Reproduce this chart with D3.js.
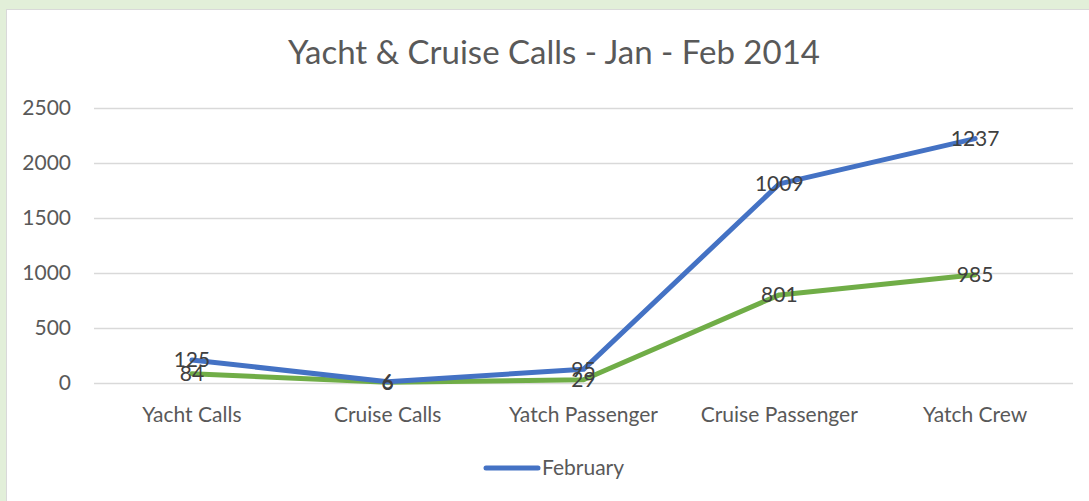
<!DOCTYPE html>
<html>
<head>
<meta charset="utf-8">
<script src="https://cdn.jsdelivr.net/npm/d3@7"></script>
<style>
  html, body { margin: 0; padding: 0; background: #e2efd9; }
  svg { display: block; font-family: Lato, "Open Sans", sans-serif; }
</style>
</head>
<body>
<svg id="chart"></svg>
<script>
/* Data Setup */
const categories = ['Yacht Calls', 'Cruise Calls', 'Yatch Passenger', 'Cruise Passenger', 'Yatch Crew'];
const january = [84, 6, 29, 801, 985];
const february = [125, 6, 95, 1009, 1237];
const yTicks = [0, 500, 1000, 1500, 2000, 2500];

/* Build table for stacking */
const table = categories.map((c, i) => ({ category: c, January: january[i], February: february[i] }));
const seriesNames = ['January', 'February'];
const stacked = d3.stack().keys(seriesNames)(table);

/* Chart dimensions */
const W = 1089, H = 501;
const margin = { top: 108, right: 16, bottom: 118, left: 94 };
const width = W - margin.left - margin.right;
const height = H - margin.top - margin.bottom;

const root = d3.select("#chart")
    .attr("width", W)
    .attr("height", H);

/* White chart panel */
root.append("rect")
    .attr("x", 6.5)
    .attr("y", 9.5)
    .attr("width", W)
    .attr("height", H)
    .attr("fill", "#fff")
    .attr("stroke", "#d9d9d9");

/* Title */
root.append("text")
    .attr("x", 554)
    .attr("y", 64)
    .attr("text-anchor", "middle")
    .style("font-size", "33px")
    .style("fill", "#595959")
    .text("Yacht & Cruise Calls - Jan - Feb 2014");

const svg = root.append("g")
    .attr("transform", `translate(${margin.left},${margin.top})`);

/* Scales */
const xScale = d3.scaleBand()
    .domain(categories)
    .range([0, width]);

const yScale = d3.scaleLinear()
    .domain([0, 2500])
    .range([height, 0]);

const colorScale = d3.scaleOrdinal()
    .domain(seriesNames)
    .range(['#70ad47', '#4472c4']);

const xPos = d => xScale(d.data.category) + xScale.bandwidth() / 2;

/* Gridlines + Y axis */
const yAxis = d3.axisLeft(yScale)
    .tickValues(yTicks)
    .tickSize(-width)
    .tickPadding(23)
    .tickFormat(d3.format("d"));
const yG = svg.append("g").call(yAxis);
yG.select(".domain").remove();
yG.selectAll("line").attr("stroke", "#d9d9d9").attr("stroke-width", 1.5);
yG.selectAll("text")
    .style("font-size", "21px")
    .style("fill", "#595959")
    .style("font-family", "Lato, sans-serif");

/* X axis */
const xAxis = d3.axisBottom(xScale).tickSize(0).tickPadding(24);
const xG = svg.append("g")
    .attr("transform", `translate(0, ${height})`)
    .call(xAxis);
xG.select(".domain").remove();
xG.selectAll("text")
    .style("font-size", "21px")
    .style("fill", "#595959")
    .style("font-family", "Lato, sans-serif");

/* Lines */
const lineGenerator = d3.line()
    .x(xPos)
    .y(d => yScale(d[1]));

svg.selectAll(".line")
    .data(stacked)
    .join("path")
      .attr("class", "line")
      .attr("fill", "none")
      .attr("stroke", d => colorScale(d.key))
      .attr("stroke-width", 5)
      .attr("stroke-linejoin", "round")
      .attr("stroke-linecap", "round")
      .attr("d", d => lineGenerator(d));

/* Data labels, centred on points */
stacked.forEach(s => {
    svg.selectAll(".label-" + s.key)
        .data(s)
        .join("text")
          .attr("class", "label-" + s.key)
          .attr("x", xPos)
          .attr("y", d => yScale(d[1]))
          .attr("dy", "0.35em")
          .attr("text-anchor", "middle")
          .style("font-size", "21px")
          .style("fill", "#404040")
          .text(d => d.data[s.key]);
});

/* Legend */
const legend = root.append("g").attr("transform", "translate(486, 468)");
legend.append("line")
    .attr("x1", 0).attr("x2", 52)
    .attr("stroke", colorScale('February'))
    .attr("stroke-width", 5)
    .attr("stroke-linecap", "round");
legend.append("text")
    .attr("x", 56)
    .attr("dy", "0.35em")
    .style("font-size", "21px")
    .style("fill", "#595959")
    .text("February");
</script>
</body>
</html>
